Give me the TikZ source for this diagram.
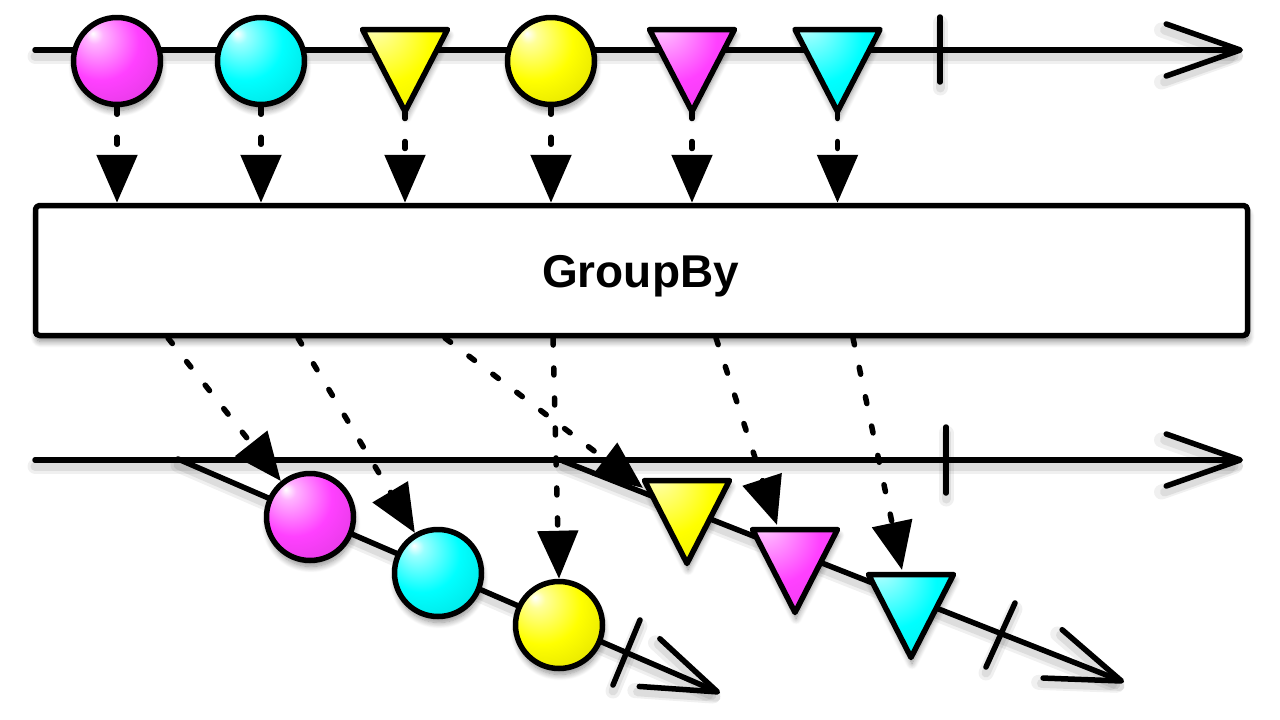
\documentclass[tikz,border=0pt]{standalone}
\usepackage{fontspec}
\newfontfamily\hv{Liberation Sans}
\usetikzlibrary{arrows.meta,shadows.blur}
\definecolor{magM}{RGB}{255,64,255}
\definecolor{cyaM}{RGB}{0,255,255}
\definecolor{yelM}{RGB}{255,255,0}
\pgfdeclareradialshading{ballM}{\pgfpoint{-14bp}{16bp}}{color(0bp)=(white); color(5bp)=(white!60!magM); color(22bp)=(magM); color(45bp)=(magM!85!black); color(68bp)=(magM!52!black)}
\pgfdeclareradialshading{ballC}{\pgfpoint{-14bp}{16bp}}{color(0bp)=(white); color(5bp)=(white!60!cyaM); color(22bp)=(cyaM); color(45bp)=(cyaM!85!black); color(68bp)=(cyaM!52!black)}
\pgfdeclareradialshading{ballY}{\pgfpoint{-14bp}{16bp}}{color(0bp)=(white); color(5bp)=(white!60!yelM); color(22bp)=(yelM); color(45bp)=(yelM!85!black); color(68bp)=(yelM!52!black)}
\pgfdeclareradialshading{triM}{\pgfpoint{-20bp}{30bp}}{color(0bp)=(white); color(6bp)=(white!60!magM); color(28bp)=(magM); color(60bp)=(magM!88!black); color(85bp)=(magM!58!black)}
\pgfdeclareradialshading{triC}{\pgfpoint{-20bp}{30bp}}{color(0bp)=(white); color(6bp)=(white!60!cyaM); color(28bp)=(cyaM); color(60bp)=(cyaM!88!black); color(85bp)=(cyaM!58!black)}
\pgfdeclareradialshading{triY}{\pgfpoint{-20bp}{30bp}}{color(0bp)=(white); color(6bp)=(white!60!yelM); color(28bp)=(yelM); color(60bp)=(yelM!88!black); color(85bp)=(yelM!58!black)}
\begin{document}
\begin{tikzpicture}[x=1pt,y=-1pt,line cap=round,line join=round,
  lsh/.style={preaction={draw=black,opacity=.06,line width=15pt,transform canvas={yshift=-6pt}},
              preaction={draw=black,opacity=.08,line width=9pt,transform canvas={yshift=-6pt}}},
  ln/.style={draw=black,line width=5.5pt,lsh},
  lnarrow/.style={ln,-{Straight Barb[length=74pt,width=52pt,round]}},
  shp/.style={draw=black,line width=5.5pt,blur shadow={shadow xshift=1pt,shadow yshift=-6pt,shadow opacity=45,shadow blur radius=6pt,shadow blur steps=10}},
  ballnode/.style={shp,circle,minimum size=87pt,inner sep=0pt},
  flow/.style={draw=black,line width=5.5pt,dash pattern=on 7pt off 23pt,-{Triangle[length=48pt,width=40pt]}},
  tickln/.style={draw=black,line width=5.5pt,lsh}]
\useasboundingbox (0,0) rectangle (1280,720);
% ---------- top timeline
\coordinate (ts) at (35,50);
\coordinate (te) at (1243,50);
\draw[lnarrow] (ts) -- (te);
\draw[tickln] (940,17) -- (940,82);
\node[ballnode,shade,shading=ballM] (a1) at (117,61) {};
\node[ballnode,shade,shading=ballC] (a2) at (261,61) {};
\path[shp,shade,shading=triY] (362.5,29.5) -- (447.5,29.5) -- (405,111.5) -- cycle;
\coordinate (a3) at (405,111.5);
\node[ballnode,shade,shading=ballY] (a4) at (551,61) {};
\path[shp,shade,shading=triM] (649.5,29.5) -- (734.5,29.5) -- (692,111.5) -- cycle;
\coordinate (a5) at (692,111.5);
\path[shp,shade,shading=triC] (795,29.5) -- (880,29.5) -- (837.5,111.5) -- cycle;
\coordinate (a6) at (837.5,111.5);
% ---------- box
\node[shp,fill=white,rounded corners=4pt,minimum width=1212pt,minimum height=130pt,inner sep=0pt] (box) at (641.5,270.5) {};
\node[anchor=base,inner sep=0pt] (lbl) at (640.5,287) {\hv\bfseries\fontsize{46}{55}\selectfont GroupBy};
% ---------- top flows
\draw[flow] (a1.south) -- (a1.south |- box.north);
\draw[flow] (a2.south) -- (a2.south |- box.north);
\draw[flow] (a3) -- (a3 |- box.north);
\draw[flow] (a4.south) -- (a4.south |- box.north);
\draw[flow] (a5) -- (a5 |- box.north);
\draw[flow] (a6) -- (a6 |- box.north);
% ---------- bottom timeline
\coordinate (bs) at (35,460);
\coordinate (be) at (1243,460);
\draw[lnarrow] (bs) -- (be);
\draw[tickln] (946,427) -- (946,493);
% group 1 (circles)
\coordinate (g1s) at (178,459);
\coordinate (g1e) at (720,693);
\draw[lnarrow] (g1s) -- (g1e);
\draw[tickln] (640,620) -- (613,685);
\node[ballnode,shade,shading=ballM] (b1) at (310,517) {};
\node[ballnode,shade,shading=ballC] (b2) at (438,573) {};
\node[ballnode,shade,shading=ballY] (b3) at (559,625) {};
% group 2 (triangles)
\coordinate (g2s) at (563,461);
\coordinate (g2e) at (1124,682);
\draw[lnarrow] (g2s) -- (g2e);
\draw[tickln] (1015,603) -- (986,667);
\path[shp,shade,shading=triY] (644.5,480.5) -- (729.5,480.5) -- (687,563.5) -- cycle;
\path[shp,shade,shading=triM] (752.5,529.5) -- (837.5,529.5) -- (795,612.5) -- cycle;
\path[shp,shade,shading=triC] (868.5,574.5) -- (953.5,574.5) -- (911,657.5) -- cycle;
\coordinate (b4) at (643,488);
\coordinate (b5) at (777,525);
\coordinate (b6) at (902,570);
% ---------- bottom flows
\coordinate (o1) at (168,338);
\coordinate (o2) at (298,338);
\coordinate (o3) at (553,338);
\coordinate (o4) at (445,338);
\coordinate (o5) at (716,338);
\coordinate (o6) at (853,338);
\draw[flow] (o1) -- (b1.129);
\draw[flow] (o2) -- (b2.120);
\draw[flow] (o3) -- (b3.north);
\draw[flow] (o4) -- (b4);
\draw[flow] (o5) -- (b5);
\draw[flow] (o6) -- (b6);
\end{tikzpicture}
\end{document}
